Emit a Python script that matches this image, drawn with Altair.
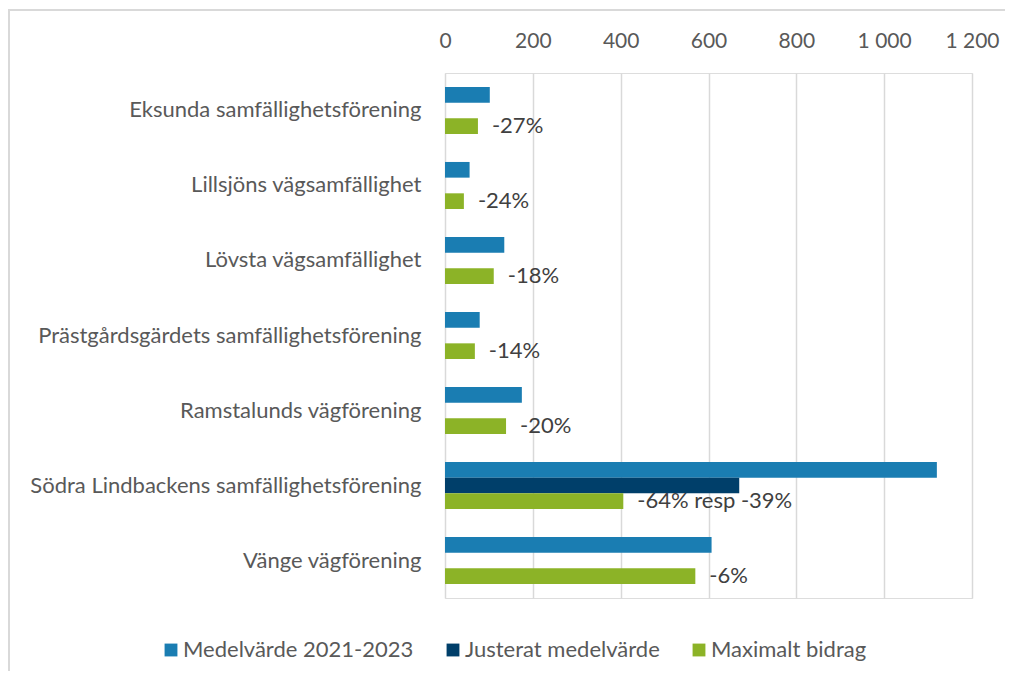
import altair as alt
import pandas as pd

categories = [
    "Eksunda samfällighetsförening",
    "Lillsjöns vägsamfällighet",
    "Lövsta vägsamfällighet",
    "Prästgårdsgärdets samfällighetsförening",
    "Ramstalunds vägförening",
    "Södra Lindbackens samfällighetsförening",
    "Vänge vägförening",
]
series = ["Medelvärde 2021-2023", "Justerat medelvärde", "Maximalt bidrag"]
medelvarde = [102, 56, 135, 79, 175, 1120, 607]
justerat = [None, None, None, None, None, 670, None]
maximalt = [75, 43, 111, 68, 139, 406, 570]
pct_labels = ["-27%", "-24%", "-18%", "-14%", "-20%", "-64% resp -39%", "-6%"]
colors = ["#1a7db2", "#003f6a", "#8cb327"]
x_ticks = [0, 200, 400, 600, 800, 1000, 1200]

rows = []
for i, c in enumerate(categories):
    for s, vals in zip(series, [medelvarde, justerat, maximalt]):
        if vals[i] is not None:
            rows.append({"kategori": c, "serie": s, "varde": vals[i]})
df = pd.DataFrame(rows)

lab_df = pd.DataFrame({
    "kategori": categories,
    "serie": [series[2]] * len(categories),
    "varde": maximalt,
    "etikett": pct_labels,
})

FONT = "Lato"
FS = 22

y_enc = alt.Y("kategori:N", sort=categories,
              scale=alt.Scale(domain=categories, paddingInner=0.373, paddingOuter=0.186),
              axis=alt.Axis(title=None, orient="left", domain=False, ticks=False,
                            labelPadding=24, labelFontSize=FS, labelColor="#595959",
                            labelFont=FONT, labelLimit=600))
yoff_enc = alt.YOffset("serie:N", scale=alt.Scale(domain=series, paddingInner=0, paddingOuter=0))
x_enc = alt.X("varde:Q", scale=alt.Scale(domain=[0, 1200], nice=False),
              axis=alt.Axis(title=None, orient="top", values=x_ticks, domain=False, ticks=False,
                            labelPadding=22, labelFontSize=21, labelColor="#595959",
                            labelFont=FONT, grid=True, gridColor="#d9d9d9", gridWidth=1.5,
                            labelFlush=False, labelOverlap=False, labelBound=False,
                            labelExpr="replace(format(datum.value, ','), ',', ' ')"))

bars = alt.Chart(df).mark_bar().encode(
    y=y_enc,
    yOffset=yoff_enc,
    x=x_enc,
    color=alt.Color("serie:N", scale=alt.Scale(domain=series, range=colors),
                    legend=alt.Legend(title=None, orient="none", direction="horizontal",
                                      legendX=-285, legendY=566, columns=3,
                                      symbolType="square", symbolSize=165,
                                      symbolStrokeWidth=0, labelFontSize=FS,
                                      labelColor="#595959", labelFont=FONT,
                                      labelOffset=1, columnPadding=28, padding=0,
                                      labelLimit=600)),
)

texts = alt.Chart(lab_df).mark_text(align="left", baseline="middle", dx=14, fontSize=FS,
                                    font=FONT, color="#404040").encode(
    y=alt.Y("kategori:N", sort=categories),
    yOffset=alt.YOffset("serie:N"),
    x=alt.X("varde:Q"),
    text="etikett:N",
)

frame_df = pd.DataFrame({"a": [0]})
frame_left = alt.Chart(frame_df).mark_rule(color="#d9d9d9", strokeWidth=2).encode(
    x=alt.value(-436), y=alt.value(-63), y2=alt.value(620))
frame_top = alt.Chart(frame_df).mark_rule(color="#d9d9d9", strokeWidth=2).encode(
    x=alt.value(-437), x2=alt.value(560), y=alt.value(-63))

chart = alt.layer(frame_left, frame_top, bars, texts).properties(
    width=527, height=525,
    autosize=alt.AutoSizeParams(type="none"),
    padding={"left": 437, "top": 65, "right": 36, "bottom": 73},
).configure_view(stroke=None).configure(background="white")

chart.save("out.html", embed_options={"renderer": "svg", "actions": False})
